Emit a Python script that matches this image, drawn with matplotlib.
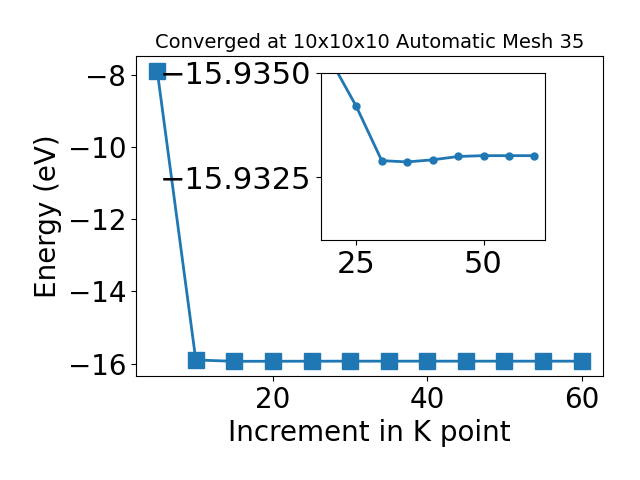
import matplotlib
matplotlib.use('Agg')
import matplotlib.pyplot as plt

# K-point convergence data
kpoints = [5, 10, 15, 20, 25, 30, 35, 40, 45, 50, 55, 60]
energy = [-7.89, -15.90, -15.937, -15.9353, -15.9342, -15.9329, -15.93287,
          -15.93292, -15.9330, -15.93302, -15.93302, -15.93302]

inset_xticks = [25, 50]
inset_yticks = [-15.9350, -15.9325]
inset_yticklabels = ['\u221215.9350', '\u221215.9325']

fig, ax = plt.subplots(figsize=(6.4, 4.8), dpi=100)
fig.subplots_adjust(left=0.2125, right=0.942, bottom=0.217, top=0.883)

ax.plot(kpoints, energy, marker='s', markersize=11, linewidth=2, color='#1f77b4')
ax.set_xlabel('Increment in K point', fontsize=20)
ax.set_ylabel('Energy (eV)', fontsize=20)
ax.set_title('Converged at 10x10x10 Automatic Mesh 35', fontsize=14)
ax.tick_params(labelsize=20)

# zoomed inset
ins = fig.add_axes([0.501, 0.5, 0.35, 0.348])
ins.plot(kpoints, energy, marker='o', markersize=5, linewidth=2, color='#1f77b4')
ins.set_xlim(18, 62)
ins.set_ylim(-15.9310, -15.9350)
ins.set_xticks(inset_xticks)
ins.set_yticks(inset_yticks)
ins.set_yticklabels(inset_yticklabels)
ins.tick_params(labelsize=22)

fig.savefig('out.png')
